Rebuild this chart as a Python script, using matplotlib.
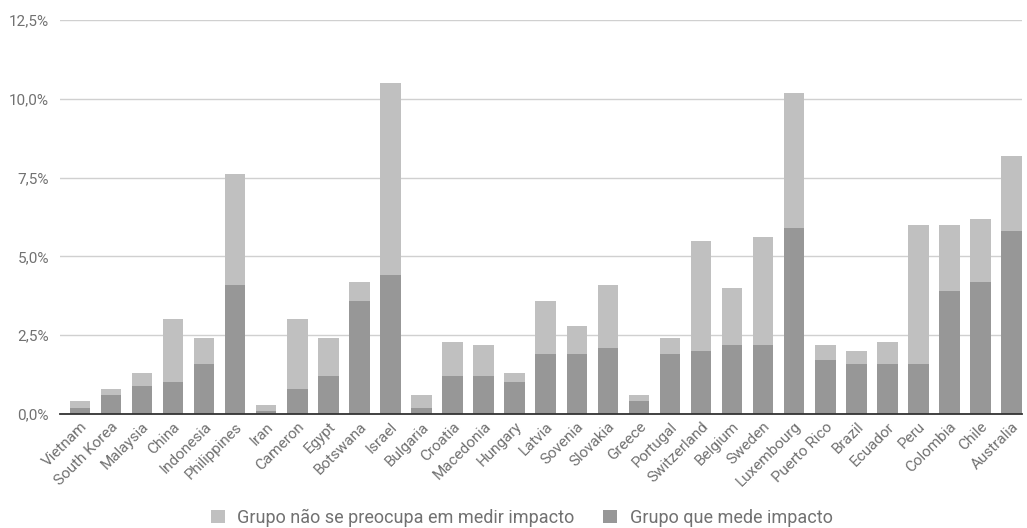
import matplotlib
matplotlib.use("Agg")
import matplotlib.pyplot as plt
from matplotlib.patches import Patch
from matplotlib.ticker import FuncFormatter

plt.rcParams['font.family'] = ['Roboto', 'DejaVu Sans']

countries = ["Vietnam", "South Korea", "Malaysia", "China", "Indonesia", "Philippines",
             "Iran", "Cameron", "Egypt", "Botswana", "Israel", "Bulgaria", "Croatia",
             "Macedonia", "Hungary", "Latvia", "Sovenia", "Slovakia", "Greece", "Portugal",
             "Switzerland", "Belgium", "Sweden", "Luxembourg", "Puerto Rico", "Brazil",
             "Ecuador", "Peru", "Colombia", "Chile", "Australia"]

# Share (%) of the group that measures impact
mede_impacto = [0.2, 0.6, 0.9, 1.0, 1.6, 4.1, 0.1, 0.8, 1.2, 3.6, 4.4, 0.2, 1.2,
                1.2, 1.0, 1.9, 1.9, 2.1, 0.4, 1.9, 2.0, 2.2, 2.2, 5.9, 1.7, 1.6,
                1.6, 1.6, 3.9, 4.2, 5.8]

# Share (%) of the group that does not care about measuring impact
nao_mede = [0.2, 0.2, 0.4, 2.0, 0.8, 3.5, 0.2, 2.2, 1.2, 0.6, 6.1, 0.4, 1.1,
            1.0, 0.3, 1.7, 0.9, 2.0, 0.2, 0.5, 3.5, 1.8, 3.4, 4.3, 0.5, 0.4,
            0.7, 4.4, 2.1, 2.0, 2.4]

y_ticks = [0, 2.5, 5.0, 7.5, 10.0, 12.5]

light = "#c0c0c0"
dark = "#979797"
text_col = "#717171"

fig = plt.figure(figsize=(10.27, 5.28), dpi=100)
ax = fig.add_axes([0.0584, 0.2159, 0.9366, 0.7462])

x = list(range(len(countries)))
w = 0.66
ax.bar(x, mede_impacto, width=w, color=dark, linewidth=0, zorder=3)
ax.bar(x, nao_mede, width=w, bottom=mede_impacto, color=light, linewidth=0, zorder=3)

ax.set_xlim(-0.64, len(countries) - 1 + 0.33)
ax.set_ylim(0, 12.5)
ax.set_yticks(y_ticks)
ax.yaxis.set_major_formatter(FuncFormatter(lambda v, p: f"{v:.1f}%".replace(".", ",")))
ax.grid(axis="y", color="#d0d0d0", linewidth=1.0, zorder=0)
ax.set_axisbelow(True)

for s in ["top", "right", "left"]:
    ax.spines[s].set_visible(False)
ax.spines["bottom"].set_color("#333333")
ax.spines["bottom"].set_linewidth(1.3)
ax.spines["bottom"].set_zorder(4)

ax.tick_params(axis="both", length=0, colors=text_col, labelsize=11)
ax.tick_params(axis="y", pad=8)
ax.set_xticks(x)
ax.set_xticklabels(countries, rotation=45, ha="right", rotation_mode="anchor")
ax.tick_params(axis="x", pad=4)

handles = [Patch(facecolor=light, edgecolor="none", label="Grupo não se preocupa em medir impacto"),
           Patch(facecolor=dark, edgecolor="none", label="Grupo que mede impacto")]
leg = fig.legend(handles=handles, loc="lower center", bbox_to_anchor=(0.508, -0.028), ncol=2,
                 frameon=False, fontsize=13, handlelength=0.75, handleheight=0.75,
                 handletextpad=0.7, columnspacing=1.6)
for t in leg.get_texts():
    t.set_color(text_col)

fig.savefig("out.png", dpi=100, facecolor="white")
